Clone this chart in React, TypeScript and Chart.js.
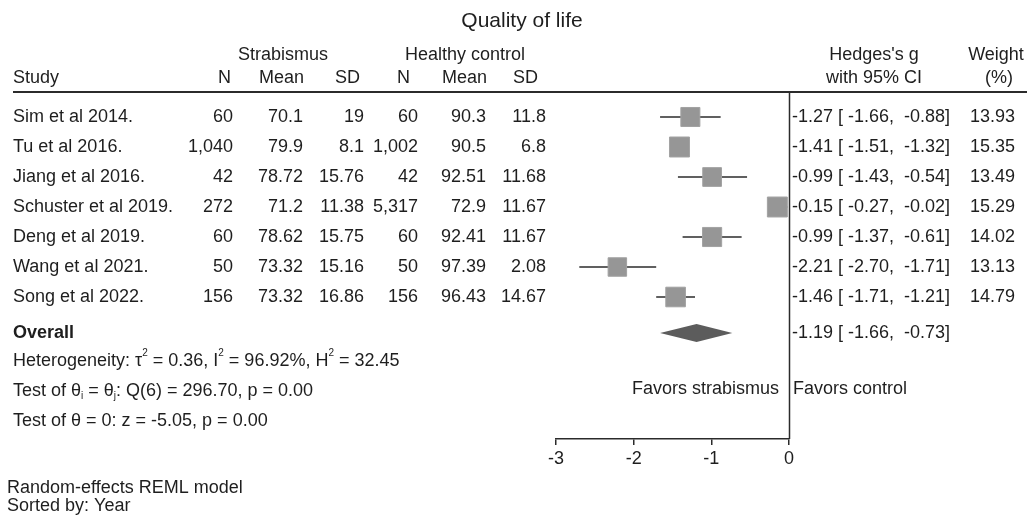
import React, { useEffect, useRef } from "react";
import { Chart, registerables } from "chart.js";

Chart.register(...registerables);

// ---------------- data ----------------
const studies = [
  "Sim et al 2014.",
  "Tu et al 2016.",
  "Jiang et al 2016.",
  "Schuster et al 2019.",
  "Deng et al 2019.",
  "Wang et al 2021.",
  "Song et al 2022.",
];
const strabN = ["60", "1,040", "42", "272", "60", "50", "156"];
const strabMean = ["70.1", "79.9", "78.72", "71.2", "78.62", "73.32", "73.32"];
const strabSD = ["19", "8.1", "15.76", "11.38", "15.75", "15.16", "16.86"];
const ctrlN = ["60", "1,002", "42", "5,317", "60", "50", "156"];
const ctrlMean = ["90.3", "90.5", "92.51", "72.9", "92.41", "97.39", "96.43"];
const ctrlSD = ["11.8", "6.8", "11.68", "11.67", "11.67", "2.08", "14.67"];
const hedgesG = [-1.27, -1.41, -0.99, -0.15, -0.99, -2.21, -1.46];
const ciLow = [-1.66, -1.51, -1.43, -0.27, -1.37, -2.7, -1.71];
const ciHigh = [-0.88, -1.32, -0.54, -0.02, -0.61, -1.71, -1.21];
const weights = [13.93, 15.35, 13.49, 15.29, 14.02, 13.13, 14.79];
const overallG = -1.19;
const overallLow = -1.66;
const overallHigh = -0.73;
const xTicks = [-3, -2, -1, 0];
const title = "Quality of life";

// row positions (in row units) for the summary lines
const overallRow = 7.2;
const statRows = [8.15, 9.15, 10.15];
const favorsRow = 9.07;

// ---------------- style ----------------
const FONT = '"Liberation Sans", Arial, Helvetica, sans-serif';
const TXT = "#1e1e1e";
const LINE = "#2b2b2b";

type Part = [string, "n" | "sup" | "sub"];

function drawText(
  ctx: CanvasRenderingContext2D,
  s: string,
  x: number,
  y: number,
  align: CanvasTextAlign = "left",
  size = 18,
  weight = "normal"
) {
  ctx.font = `${weight} ${size}px ${FONT}`;
  ctx.textAlign = align;
  ctx.textBaseline = "middle";
  ctx.fillStyle = TXT;
  ctx.fillText(s, x, y);
}

function drawRich(ctx: CanvasRenderingContext2D, parts: Part[], x: number, y: number) {
  let cx = x;
  ctx.textAlign = "left";
  ctx.textBaseline = "middle";
  ctx.fillStyle = TXT;
  for (const [s, kind] of parts) {
    if (kind === "n") {
      ctx.font = `18px ${FONT}`;
      ctx.fillText(s, cx, y);
      cx += ctx.measureText(s).width;
    } else {
      ctx.font = `10px ${FONT}`;
      const dy = kind === "sup" ? -8 : 5;
      ctx.fillText(s, cx, y + dy);
      cx += ctx.measureText(s).width;
    }
  }
}

export default function App() {
  const ref = useRef<HTMLCanvasElement>(null);

  useEffect(() => {
    const canvas = ref.current;
    if (!canvas) return;

    const forestPlugin = {
      id: "forestDecor",
      beforeDatasetsDraw(chart: any) {
        const ctx: CanvasRenderingContext2D = chart.ctx;
        const xs = chart.scales.x;
        const area = chart.chartArea;
        ctx.save();
        // header rule
        ctx.strokeStyle = LINE;
        ctx.lineWidth = 2;
        ctx.beginPath();
        ctx.moveTo(13, area.top);
        ctx.lineTo(1027, area.top);
        ctx.stroke();
        // line of no effect
        const x0 = Math.round(xs.getPixelForValue(0)) + 0.5;
        ctx.lineWidth = 1.5;
        ctx.beginPath();
        ctx.moveTo(x0, area.top);
        ctx.lineTo(x0, area.bottom);
        ctx.stroke();
        ctx.restore();
      },
      afterDatasetsDraw(chart: any) {
        const ctx: CanvasRenderingContext2D = chart.ctx;
        const xs = chart.scales.x;
        const ys = chart.scales.y;
        const yc = ys.getPixelForValue(overallRow);
        ctx.save();
        ctx.fillStyle = "#5c5c5c";
        ctx.beginPath();
        ctx.moveTo(xs.getPixelForValue(overallLow), yc);
        ctx.lineTo(xs.getPixelForValue(overallG), yc - 9);
        ctx.lineTo(xs.getPixelForValue(overallHigh), yc);
        ctx.lineTo(xs.getPixelForValue(overallG), yc + 9);
        ctx.closePath();
        ctx.fill();
        ctx.restore();
      },
      afterDraw(chart: any) {
        const ctx: CanvasRenderingContext2D = chart.ctx;
        const ys = chart.scales.y;
        const xs = chart.scales.x;
        ctx.save();
        // title and headers
        drawText(ctx, title, 522, 21, "center", 21);
        drawText(ctx, "Strabismus", 283, 55, "center");
        drawText(ctx, "Healthy control", 465, 55, "center");
        drawText(ctx, "Hedges's g", 874, 55, "center");
        drawText(ctx, "Weight", 996, 55, "center");
        drawText(ctx, "Study", 13, 78);
        drawText(ctx, "N", 231, 78, "right");
        drawText(ctx, "Mean", 304, 78, "right");
        drawText(ctx, "SD", 360, 78, "right");
        drawText(ctx, "N", 410, 78, "right");
        drawText(ctx, "Mean", 487, 78, "right");
        drawText(ctx, "SD", 538, 78, "right");
        drawText(ctx, "with 95% CI", 874, 78, "center");
        drawText(ctx, "(%)", 999, 78, "center");

        // study rows
        studies.forEach((s, i) => {
          const y = ys.getPixelForValue(i);
          drawText(ctx, s, 13, y);
          drawText(ctx, strabN[i], 233, y, "right");
          drawText(ctx, strabMean[i], 303, y, "right");
          drawText(ctx, strabSD[i], 364, y, "right");
          drawText(ctx, ctrlN[i], 418, y, "right");
          drawText(ctx, ctrlMean[i], 486, y, "right");
          drawText(ctx, ctrlSD[i], 546, y, "right");
          drawText(
            ctx,
            `${hedgesG[i].toFixed(2)} [ ${ciLow[i].toFixed(2)},  ${ciHigh[i].toFixed(2)}]`,
            792,
            y
          );
          drawText(ctx, weights[i].toFixed(2), 1015, y, "right");
        });

        // overall
        const yo = ys.getPixelForValue(overallRow);
        drawText(ctx, "Overall", 13, yo, "left", 18, "bold");
        drawText(
          ctx,
          `${overallG.toFixed(2)} [ ${overallLow.toFixed(2)},  ${overallHigh.toFixed(2)}]`,
          792,
          yo
        );

        // statistics
        drawRich(
          ctx,
          [
            ["Heterogeneity: \u03C4", "n"],
            ["2", "sup"],
            [" = 0.36, I", "n"],
            ["2", "sup"],
            [" = 96.92%, H", "n"],
            ["2", "sup"],
            [" = 32.45", "n"],
          ],
          13,
          ys.getPixelForValue(statRows[0])
        );
        drawRich(
          ctx,
          [
            ["Test of \u03B8", "n"],
            ["i", "sub"],
            [" = \u03B8", "n"],
            ["j", "sub"],
            [": Q(6) = 296.70, p = 0.00", "n"],
          ],
          13,
          ys.getPixelForValue(statRows[1])
        );
        drawRich(ctx, [["Test of \u03B8 = 0: z = -5.05, p = 0.00", "n"]], 13, ys.getPixelForValue(statRows[2]));

        // favours
        const x0 = xs.getPixelForValue(0);
        const yf = ys.getPixelForValue(favorsRow);
        drawText(ctx, "Favors strabismus", x0 - 10, yf, "right");
        drawText(ctx, "Favors control", x0 + 4, yf, "left");

        // footnotes
        drawText(ctx, "Random-effects REML model", 7, 488);
        drawText(ctx, "Sorted by: Year", 7, 506);
        ctx.restore();
      },
    };

    const ciSets = studies.map((_, i) => ({
      type: "scatter" as const,
      data: [
        { x: ciLow[i], y: i },
        { x: ciHigh[i], y: i },
      ],
      showLine: true,
      borderColor: LINE,
      borderWidth: 1.6,
      pointRadius: 0,
      order: 2,
    }));

    const squareSet = {
      type: "scatter" as const,
      data: hedgesG.map((g, i) => ({ x: g, y: i })),
      pointStyle: "rect" as const,
      pointRadius: weights.map((w) => (5.1 * Math.sqrt(w)) / Math.SQRT2),
      backgroundColor: "#969696",
      borderColor: "#a2a2a2",
      borderWidth: 1,
      order: 1,
    };

    const chart = new Chart(canvas, {
      type: "scatter",
      data: { datasets: [...ciSets, squareSet] as any },
      options: {
        animation: false,
        responsive: false,
        events: [],
        layout: { padding: { left: 556, right: 240, top: 92, bottom: 0 } },
        plugins: { legend: { display: false }, tooltip: { enabled: false }, title: { display: false } },
        scales: {
          x: {
            type: "linear",
            min: xTicks[0],
            max: xTicks[xTicks.length - 1],
            afterBuildTicks: (s: any) => {
              s.ticks = xTicks.map((v) => ({ value: v }));
            },
            afterFit: (s: any) => {
              s.height = 78;
            },
            grid: {
              drawOnChartArea: false,
              drawTicks: true,
              tickLength: 6,
              color: LINE,
              lineWidth: 1.5,
            },
            border: { display: true, color: LINE, width: 1.5 },
            ticks: {
              color: TXT,
              padding: 3,
              font: { family: FONT, size: 18 },
              maxRotation: 0,
            },
          },
          y: {
            type: "linear",
            display: false,
            reverse: true,
            min: -0.8333,
            max: 10.7333,
          },
        },
      },
      plugins: [forestPlugin],
    });

    return () => chart.destroy();
  }, []);

  return (
    <div
      style={{
        position: "fixed",
        left: 0,
        top: 0,
        width: 1029,
        height: 517,
        background: "#fff",
      }}
    >
      <canvas ref={ref} width={1029} height={517} style={{ display: "block" }} />
    </div>
  );
}
